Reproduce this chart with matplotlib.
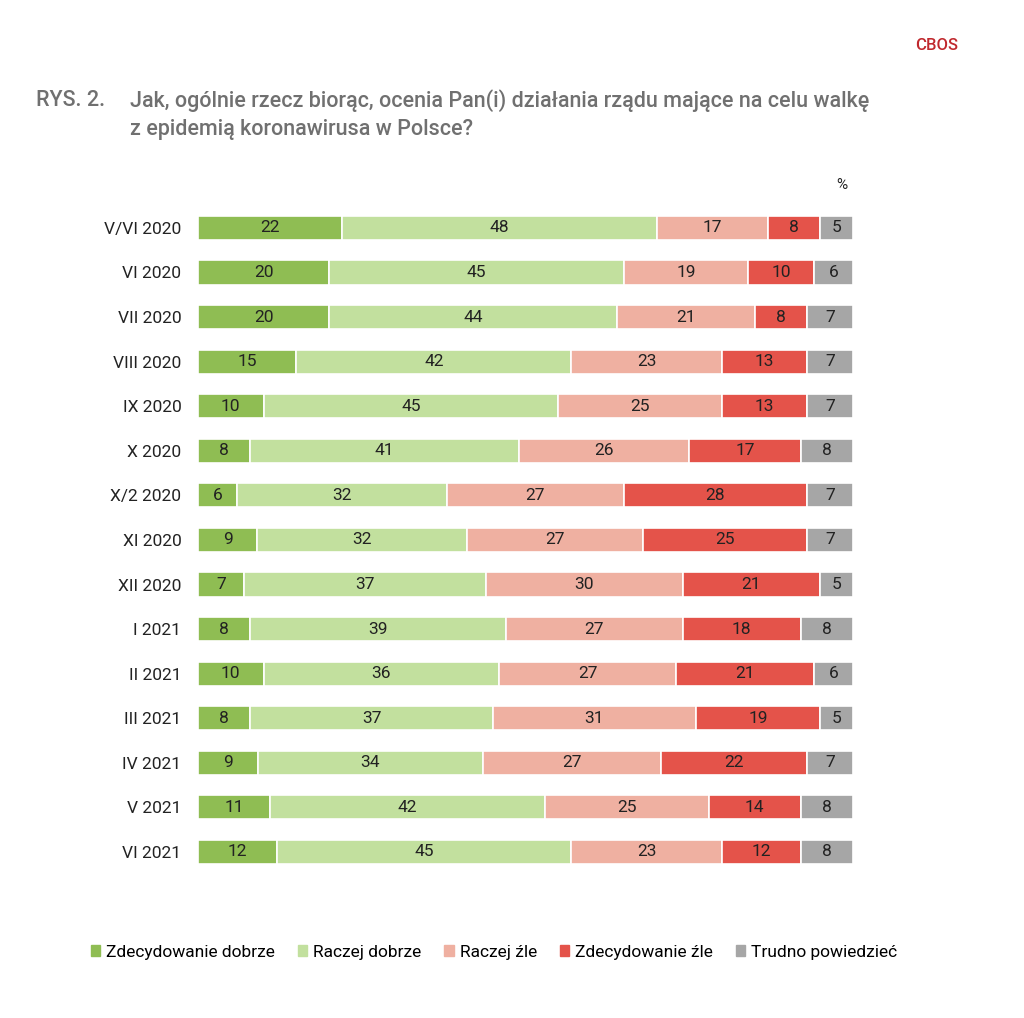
import matplotlib.pyplot as plt
import matplotlib.patches as mpatches
import numpy as np

plt.rcParams['font.family'] = ['Roboto', 'DejaVu Sans']

periods = ["V/VI 2020", "VI 2020", "VII 2020", "VIII 2020", "IX 2020", "X 2020",
           "X/2 2020", "XI 2020", "XII 2020", "I 2021", "II 2021", "III 2021",
           "IV 2021", "V 2021", "VI 2021"]
zdecydowanie_dobrze = [22, 20, 20, 15, 10, 8, 6, 9, 7, 8, 10, 8, 9, 11, 12]
raczej_dobrze = [48, 45, 44, 42, 45, 41, 32, 32, 37, 39, 36, 37, 34, 42, 45]
raczej_zle = [17, 19, 21, 23, 25, 26, 27, 27, 30, 27, 27, 31, 27, 25, 23]
zdecydowanie_zle = [8, 10, 8, 13, 13, 17, 28, 25, 21, 18, 21, 19, 22, 14, 12]
trudno = [5, 6, 7, 7, 7, 8, 7, 7, 5, 8, 6, 5, 7, 8, 8]
series_names = ["Zdecydowanie dobrze", "Raczej dobrze", "Raczej źle",
                "Zdecydowanie źle", "Trudno powiedzieć"]

colors = ["#8fbd53", "#c2e09e", "#efb0a1", "#e4534a", "#a6a6a6"]

fig = plt.figure(figsize=(10.24, 10.18), dpi=100)
ax = fig.add_axes([0.1934, 0.1412, 0.6396, 0.6568])

series = [zdecydowanie_dobrze, raczej_dobrze, raczej_zle, zdecydowanie_zle, trudno]
data = np.array(series, dtype=float)
# rows are drawn as full 100% bars (rounded values may not sum to 100)
shares = data / data.sum(axis=0) * 100
y = np.arange(len(periods))
left = np.zeros(len(periods))
for vals, shr, col, name in zip(data, shares, colors, series_names):
    ax.barh(y, shr, left=left, height=0.54, color=col, edgecolor="white",
            linewidth=1.2, label=name)
    for yi, l, v, w in zip(y, left, vals, shr):
        ax.text(l + w / 2, yi, str(int(v)), ha="center", va="center",
                fontsize=12.5, color="#222222")
    left += shr

ax.set_xlim(0, 100)
ax.set_ylim(len(periods) - 0.5, -0.5)
ax.set_yticks(y)
ax.set_yticklabels(periods, fontsize=12.5, color="#222222")
ax.tick_params(axis="y", length=0, pad=12)
ax.set_xticks([])
for s in ax.spines.values():
    s.set_visible(False)

title_kw = dict(fontsize=15.5, color="#707070", va="center", ha="left", weight="medium")
fig.text(36 / 1024, 1 - 101 / 1018, "RYS. 2.", **title_kw)
fig.text(130 / 1024, 1 - 101 / 1018,
         "Jak, ogólnie rzecz biorąc, ocenia Pan(i) działania rządu mające na celu walkę",
         **title_kw)
fig.text(130 / 1024, 1 - 130 / 1018, "z epidemią koronawirusa w Polsce?", **title_kw)
fig.text(842 / 1024, 1 - 185 / 1018, "%", fontsize=11, color="#222222",
         ha="center", va="center")
fig.text(937 / 1024, 1 - 45 / 1018, "CBOS", fontsize=12, color="#c0282d",
         ha="center", va="center", weight="medium")

handles = [mpatches.Patch(color=c, label=n) for c, n in zip(colors, series_names)]
fig.legend(handles=handles, loc="center", bbox_to_anchor=(494 / 1024, 1 - 952 / 1018),
           ncol=5, frameon=False, fontsize=12.5, handlelength=0.55, handleheight=0.55,
           handletextpad=0.35, columnspacing=1.3)

fig.savefig("out.png", dpi=100, facecolor="white")
